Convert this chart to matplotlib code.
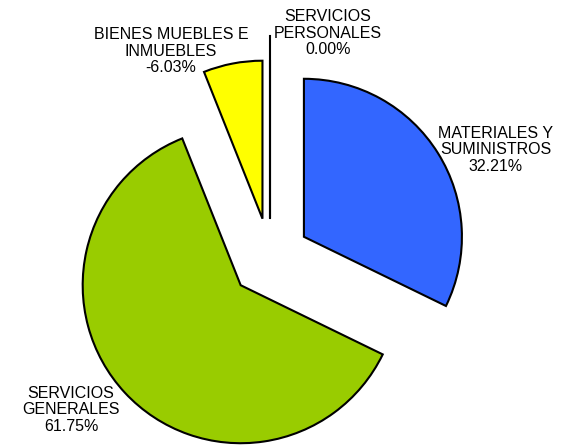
import matplotlib
matplotlib.use("Agg")
import matplotlib.pyplot as plt
import numpy as np

plt.rcParams['font.family'] = ['Liberation Sans', 'DejaVu Sans']

categories = ["MATERIALES Y\nSUMINISTROS", "SERVICIOS\nGENERALES",
              "BIENES MUEBLES E\nINMUEBLES", "SERVICIOS\nPERSONALES"]
values = [32.21, 61.75, -6.03, 0.00]
colors = ["#3366FF", "#99CC00", "#FFFF00", "#FFFFFF"]

W, H = 563, 446
fig = plt.figure(figsize=(W / 100, H / 100), dpi=100)
ax = fig.add_axes([0, 0, 1, 1])

cx, cy, R, d = 270, H - 258, 158, 40
sizes = np.abs(values)
wedges, _ = ax.pie(sizes, colors=colors, startangle=90, counterclock=False,
                   center=(cx, cy), radius=R, explode=[d] * len(values),
                   wedgeprops=dict(edgecolor="black", linewidth=1.5),
                   normalize=True)

ax.set_xlim(0, W)
ax.set_ylim(0, H)
ax.set_aspect("auto")
ax.axis("off")

label_pos = [(496, H - 150), (71, H - 410), (171, H - 51), (328, H - 33)]
for cat, v, (lx, ly) in zip(categories, values, label_pos):
    ax.text(lx, ly, f"{cat}\n{v:.2f}%", ha="center", va="center",
            fontsize=11.5, linespacing=1.1, color="black")

# zero-size slice drawn as a radial line, plus leader to its label
zw = wedges[3]
zx, zy = zw.center
ax.plot([zx, zx], [zy, H - 36], color="black", lw=1.5)

fig.savefig("out.png", dpi=100)
